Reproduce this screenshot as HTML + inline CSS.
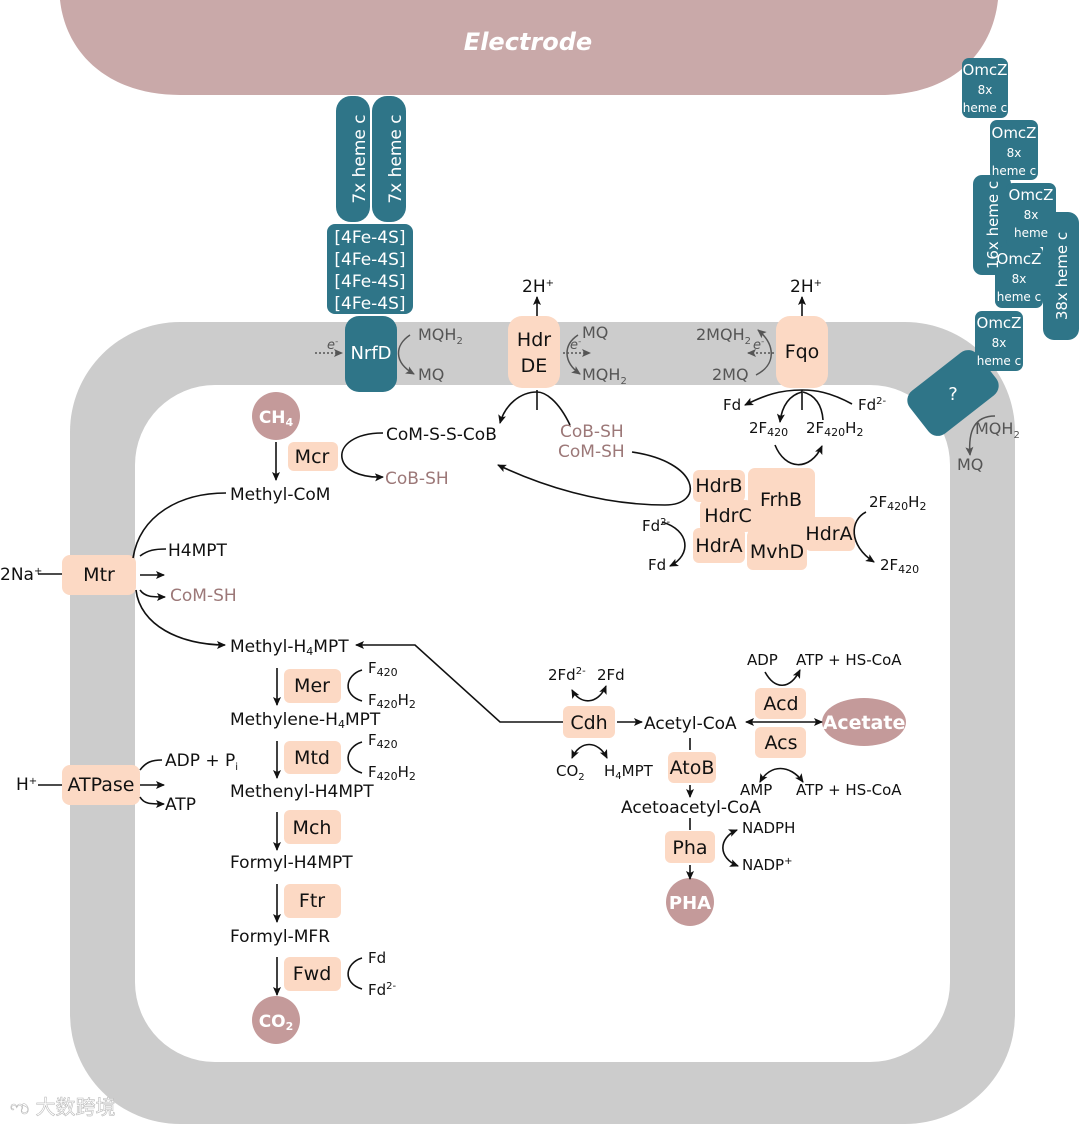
<!DOCTYPE html>
<html><head><meta charset="utf-8"><style>
html,body{margin:0;padding:0;background:#fff}
svg{display:block}
text{font-family:"DejaVu Sans","Liberation Sans",sans-serif}
</style></head><body>
<svg width="1080" height="1126" viewBox="0 0 1080 1126" xmlns="http://www.w3.org/2000/svg">
<defs>
<marker id="a" markerWidth="10" markerHeight="10" refX="8" refY="5" orient="auto" markerUnits="userSpaceOnUse"><path d="M0,1 L9,5 L0,9 L2,5 Z" fill="#111"/></marker>
<marker id="g" markerWidth="10" markerHeight="10" refX="8" refY="5" orient="auto" markerUnits="userSpaceOnUse"><path d="M0,1 L9,5 L0,9 L2,5 Z" fill="#555"/></marker>
<marker id="as" markerWidth="10" markerHeight="10" refX="1" refY="5" orient="auto" markerUnits="userSpaceOnUse"><path d="M9,1 L0,5 L9,9 L7,5 Z" fill="#111"/></marker>
</defs>
<path d="M60,0 L998,0 C992,55 950,95 880,95 L180,95 C110,95 66,55 60,0 Z" fill="#c9a9a9"/>
<text x="528" y="50" font-size="24" font-weight="bold" font-style="italic" fill="#fff" text-anchor="middle">Electrode</text>
<rect x="70" y="322" width="945" height="802" rx="110" fill="#cccccc"/>
<rect x="135" y="385" width="815" height="677" rx="80" fill="#fff"/>
<text x="10" y="1114" font-size="20" fill="#fff" stroke="#bbb" stroke-width="0.6" font-family="'Noto Sans CJK SC',sans-serif">  ಌ 大数跨境</text>

<g fill="#2f7588">
<rect x="336" y="96" width="34" height="126" rx="15"/>
<rect x="372" y="96" width="34" height="126" rx="15"/>
<rect x="327" y="224" width="86" height="90" rx="8"/>
<rect x="345" y="316" width="52" height="76" rx="14"/>
<rect x="962" y="58" width="46" height="60" rx="7"/>
<rect x="990" y="120" width="48" height="60" rx="7"/>
<rect x="973" y="175" width="38" height="100" rx="9"/>
<rect x="1043" y="212" width="36" height="128" rx="11"/>
<rect x="1006" y="183" width="50" height="64" rx="7"/>
<rect x="995" y="246" width="48" height="62" rx="7"/>
<rect x="975" y="311" width="48" height="60" rx="7"/>
<rect x="910" y="366" width="86" height="54" rx="12" transform="rotate(-38 953 393)"/>
</g>
<g fill="#fff" text-anchor="middle">
<text transform="translate(359,159) rotate(-90)" y="6" font-size="17">7x heme c</text>
<text transform="translate(395,159) rotate(-90)" y="6" font-size="17">7x heme c</text>
<text x="370" y="243" font-size="17">[4Fe-4S]</text>
<text x="370" y="265" font-size="17">[4Fe-4S]</text>
<text x="370" y="287" font-size="17">[4Fe-4S]</text>
<text x="370" y="309" font-size="17">[4Fe-4S]</text>
<text x="371" y="359" font-size="18">NrfD</text>
<text x="985" y="75" font-size="15">OmcZ</text><text x="985" y="94" font-size="12">8x</text><text x="985" y="112" font-size="12">heme c</text>
<text x="1014" y="138" font-size="15">OmcZ</text><text x="1014" y="157" font-size="12">8x</text><text x="1014" y="175" font-size="12">heme c</text>
<text transform="translate(992,225) rotate(-90)" y="6" font-size="15">16x heme c</text>
<text transform="translate(1061,276) rotate(-90)" y="6" font-size="15">38x heme c</text>
<text x="1031" y="200" font-size="15">OmcZ</text><text x="1031" y="219" font-size="12">8x</text><text x="1031" y="237" font-size="12">heme</text>
<text x="1019" y="264" font-size="15">OmcZ</text><text x="1019" y="283" font-size="12">8x</text><text x="1019" y="301" font-size="12">heme c</text>
<text x="999" y="328" font-size="15">OmcZ</text><text x="999" y="347" font-size="12">8x</text><text x="999" y="365" font-size="12">heme c</text>
<text x="953" y="400" font-size="18">?</text>
</g>

<g fill="#fcd9c4">
<rect x="508" y="316" width="52" height="72" rx="14"/>
<rect x="776" y="316" width="52" height="72" rx="14"/>
<rect x="288" y="442" width="50" height="29" rx="6"/>
<rect x="62" y="555" width="74" height="40" rx="8"/>
<rect x="62" y="765" width="78" height="40" rx="8"/>
<rect x="284" y="669" width="57" height="34" rx="6"/>
<rect x="284" y="741" width="57" height="33" rx="6"/>
<rect x="284" y="810" width="57" height="34" rx="6"/>
<rect x="284" y="884" width="57" height="34" rx="6"/>
<rect x="284" y="957" width="57" height="34" rx="6"/>
<rect x="563" y="706" width="52" height="32" rx="6"/>
<rect x="755" y="688" width="51" height="31" rx="6"/>
<rect x="755" y="727" width="51" height="31" rx="6"/>
<rect x="668" y="752" width="48" height="31" rx="6"/>
<rect x="665" y="831" width="50" height="32" rx="6"/>
<rect x="693" y="470" width="52" height="32" rx="6"/>
<rect x="748" y="468" width="67" height="78" rx="7"/>
<rect x="700" y="500" width="52" height="32" rx="6"/>
<rect x="693" y="528" width="52" height="35" rx="6"/>
<rect x="747" y="530" width="60" height="40" rx="6"/>
<rect x="805" y="517" width="50" height="34" rx="6"/>
</g>
<g fill="#c49a9a">
<circle cx="276" cy="416" r="24"/>
<circle cx="276" cy="1020" r="24"/>
<circle cx="690" cy="902" r="24"/>
<ellipse cx="864" cy="722" rx="42" ry="24"/>
</g>
<g fill="#fff" font-weight="bold" text-anchor="middle">
<text x="276" y="423" font-size="17">CH<tspan font-size="11" dy="3">4</tspan></text>
<text x="276" y="1027" font-size="17">CO<tspan font-size="11" dy="3">2</tspan></text>
<text x="690" y="909" font-size="18">PHA</text>
<text x="864" y="729" font-size="19">Acetate</text>
</g>

<g font-size="19" fill="#111" text-anchor="middle">
<text x="534" y="346">Hdr</text><text x="534" y="372">DE</text>
<text x="802" y="358">Fqo</text>
<text x="312" y="463">Mcr</text>
<text x="99" y="581">Mtr</text>
<text x="101" y="791">ATPase</text>
<text x="312" y="692">Mer</text>
<text x="312" y="764">Mtd</text>
<text x="312" y="834">Mch</text>
<text x="312" y="907">Ftr</text>
<text x="312" y="980">Fwd</text>
<text x="589" y="729">Cdh</text>
<text x="781" y="710">Acd</text>
<text x="781" y="749">Acs</text>
<text x="692" y="774">AtoB</text>
<text x="690" y="854">Pha</text>
<text x="719" y="492">HdrB</text>
<text x="781" y="506">FrhB</text>
<text x="728" y="522">HdrC</text>
<text x="719" y="552">HdrA</text>
<text x="777" y="558">MvhD</text>
<text x="829" y="540">HdrA</text>
</g>

<g font-size="17" fill="#111">
<text x="522" y="292">2H<tspan font-size="10" dy="-6">+</tspan></text>
<text x="790" y="292">2H<tspan font-size="10" dy="-6">+</tspan></text>
<text x="386" y="440">CoM-S-S-CoB</text>
<text x="230" y="500">Methyl-CoM</text>
<text x="0" y="580">2Na<tspan font-size="10" dy="-6">+</tspan></text>
<text x="168" y="556">H4MPT</text>
<text x="230" y="652">Methyl-H<tspan font-size="11" dy="3">4</tspan><tspan dy="-3">MPT</tspan></text>
<text x="230" y="725">Methylene-H<tspan font-size="11" dy="3">4</tspan><tspan dy="-3">MPT</tspan></text>
<text x="230" y="797">Methenyl-H4MPT</text>
<text x="230" y="868">Formyl-H4MPT</text>
<text x="230" y="942">Formyl-MFR</text>
<text x="16" y="790">H<tspan font-size="10" dy="-6">+</tspan></text>
<text x="165" y="766">ADP + P<tspan font-size="10" dy="4">i</tspan></text>
<text x="165" y="810">ATP</text>
<text x="644" y="729">Acetyl-CoA</text>
<text x="621" y="813">Acetoacetyl-CoA</text>
<text x="747" y="665" font-size="15">ADP</text>
<text x="796" y="665" font-size="15">ATP + HS-CoA</text>
<text x="740" y="795" font-size="15">AMP</text>
<text x="796" y="795" font-size="15">ATP + HS-CoA</text>
<text x="742" y="833" font-size="15">NADPH</text>
<text x="742" y="870" font-size="15">NADP<tspan font-size="10" dy="-6">+</tspan></text>
<text x="548" y="680" font-size="15">2Fd<tspan font-size="10" dy="-6">2-</tspan></text>
<text x="597" y="680" font-size="15">2Fd</text>
<text x="556" y="776" font-size="15">CO<tspan font-size="10" dy="4">2</tspan></text>
<text x="604" y="776" font-size="15">H<tspan font-size="10" dy="3">4</tspan><tspan dy="-3">MPT</tspan></text>
<text x="368" y="673" font-size="15">F<tspan font-size="11" dy="3">420</tspan></text>
<text x="368" y="705" font-size="15">F<tspan font-size="11" dy="3">420</tspan><tspan dy="-3">H</tspan><tspan font-size="11" dy="3">2</tspan></text>
<text x="368" y="745" font-size="15">F<tspan font-size="11" dy="3">420</tspan></text>
<text x="368" y="777" font-size="15">F<tspan font-size="11" dy="3">420</tspan><tspan dy="-3">H</tspan><tspan font-size="11" dy="3">2</tspan></text>
<text x="368" y="963" font-size="15">Fd</text>
<text x="368" y="995" font-size="15">Fd<tspan font-size="10" dy="-6">2-</tspan></text>
<text x="723" y="410" font-size="15">Fd</text>
<text x="858" y="410" font-size="15">Fd<tspan font-size="10" dy="-6">2-</tspan></text>
<text x="749" y="433" font-size="15">2F<tspan font-size="11" dy="3">420</tspan></text>
<text x="806" y="433" font-size="15">2F<tspan font-size="11" dy="3">420</tspan><tspan dy="-3">H</tspan><tspan font-size="11" dy="3">2</tspan></text>
<text x="869" y="507" font-size="15">2F<tspan font-size="11" dy="3">420</tspan><tspan dy="-3">H</tspan><tspan font-size="11" dy="3">2</tspan></text>
<text x="880" y="570" font-size="15">2F<tspan font-size="11" dy="3">420</tspan></text>
<text x="642" y="531" font-size="15">Fd<tspan font-size="10" dy="-6">2-</tspan></text>
<text x="648" y="570" font-size="15">Fd</text>
</g>
<g font-size="17" fill="#9c7878">
<text x="385" y="484">CoB-SH</text>
<text x="560" y="437">CoB-SH</text>
<text x="558" y="457">CoM-SH</text>
<text x="170" y="601">CoM-SH</text>
</g>
<g font-size="16" fill="#555">
<text x="418" y="340">MQH<tspan font-size="10" dy="4">2</tspan></text>
<text x="418" y="380">MQ</text>
<text x="582" y="338">MQ</text>
<text x="582" y="380">MQH<tspan font-size="10" dy="4">2</tspan></text>
<text x="696" y="340">2MQH<tspan font-size="10" dy="4">2</tspan></text>
<text x="712" y="380">2MQ</text>
<text x="975" y="434">MQH<tspan font-size="10" dy="4">2</tspan></text>
<text x="957" y="470">MQ</text>
<text x="327" y="349" font-size="13" font-style="italic">e<tspan font-size="9" dy="-5">-</tspan></text>
<text x="570" y="349" font-size="13" font-style="italic">e<tspan font-size="9" dy="-5">-</tspan></text>
<text x="753" y="349" font-size="13" font-style="italic">e<tspan font-size="9" dy="-5">-</tspan></text>
</g>

<g fill="none" stroke="#555" stroke-width="1.5">
<path d="M315,353 L342,353" stroke-dasharray="2,2" marker-end="url(#g)"/>
<path d="M410,335 C395,345 393,362 414,374" marker-end="url(#g)"/>
<path d="M563,353 L590,353" stroke-dasharray="2,2" marker-end="url(#g)"/>
<path d="M578,335 C563,345 563,362 580,374" marker-end="url(#g)"/>
<path d="M774,353 L748,353" stroke-dasharray="2,2" marker-end="url(#g)"/>
<path d="M756,375 C776,365 776,345 758,330" marker-end="url(#g)"/>
<path d="M995,416 C975,416 968,430 970,455" marker-end="url(#g)"/>
</g>
<g fill="none" stroke="#111" stroke-width="1.6">
<path d="M537,316 L537,297" marker-end="url(#a)"/>
<path d="M802,316 L802,297" marker-end="url(#a)"/>
<path d="M537,390 L537,410"/>
<path d="M570,425 C558,400 545,392 537,392 C520,392 505,405 500,423" marker-end="url(#a)"/>
<path d="M632,452 C700,462 705,505 665,505 C600,505 540,485 498,465" marker-end="url(#a)"/>
<path d="M383,433 C355,433 340,445 342,458 C344,470 360,478 383,477" marker-end="url(#a)"/>
<path d="M276,442 L276,480" marker-end="url(#a)"/>
<path d="M226,493 C180,493 140,515 133,558"/>
<path d="M136,590 C140,625 180,645 225,645" marker-end="url(#a)"/>
<path d="M38,574 L62,574"/>
<path d="M140,556 C148,550 155,549 166,549"/>
<path d="M140,575 L164,575" marker-end="url(#a)"/>
<path d="M140,590 C145,597 152,597 165,597" marker-end="url(#a)"/>
<path d="M38,785 L62,785"/>
<path d="M140,770 C146,762 152,760 162,760"/>
<path d="M140,785 L164,785" marker-end="url(#a)"/>
<path d="M140,797 C144,804 150,804 164,804" marker-end="url(#a)"/>
<path d="M563,722 L500,722 L415,645 L356,645" marker-end="url(#a)"/>
<path d="M617,722 L642,722" marker-end="url(#a)"/>
<path d="M277,668 L277,705" marker-end="url(#a)"/>
<path d="M277,741 L277,778" marker-end="url(#a)"/>
<path d="M277,812 L277,850" marker-end="url(#a)"/>
<path d="M277,884 L277,922" marker-end="url(#a)"/>
<path d="M277,957 L277,995" marker-end="url(#a)"/>
<path d="M362,670 C345,675 342,695 362,701"/>
<path d="M362,742 C345,747 342,767 362,773"/>
<path d="M362,958 C345,963 342,983 362,989"/>
<path d="M572,690 C580,705 598,705 606,686" marker-start="url(#as)" marker-end="url(#a)"/>
<path d="M572,758 C580,740 598,740 607,758" marker-start="url(#as)" marker-end="url(#a)"/>
<path d="M765,672 C775,690 790,690 800,670" marker-end="url(#a)"/>
<path d="M760,782 C770,764 790,764 803,782" marker-start="url(#as)" marker-end="url(#a)"/>
<path d="M746,722 L822,722" marker-start="url(#as)" marker-end="url(#a)"/>
<path d="M690,738 L690,750"/>
<path d="M690,785 L690,797" marker-end="url(#a)"/>
<path d="M690,818 L690,830"/>
<path d="M690,865 L690,879" marker-end="url(#a)"/>
<path d="M737,830 C718,838 718,858 738,866" marker-start="url(#as)" marker-end="url(#a)"/>
<path d="M802,390 L802,410"/>
<path d="M852,404 C830,392 815,390 802,390 C780,390 765,395 745,405" marker-end="url(#a)"/>
<path d="M802,392 C790,395 782,405 780,422" marker-end="url(#a)"/>
<path d="M823,420 C822,405 815,395 803,392"/>
<path d="M775,445 C785,470 810,472 822,446" marker-end="url(#a)"/>
<path d="M866,512 C850,520 848,545 874,562" marker-end="url(#a)"/>
<path d="M662,522 C690,530 692,555 670,566" marker-end="url(#a)"/>
</g>
</svg>
</body></html>
